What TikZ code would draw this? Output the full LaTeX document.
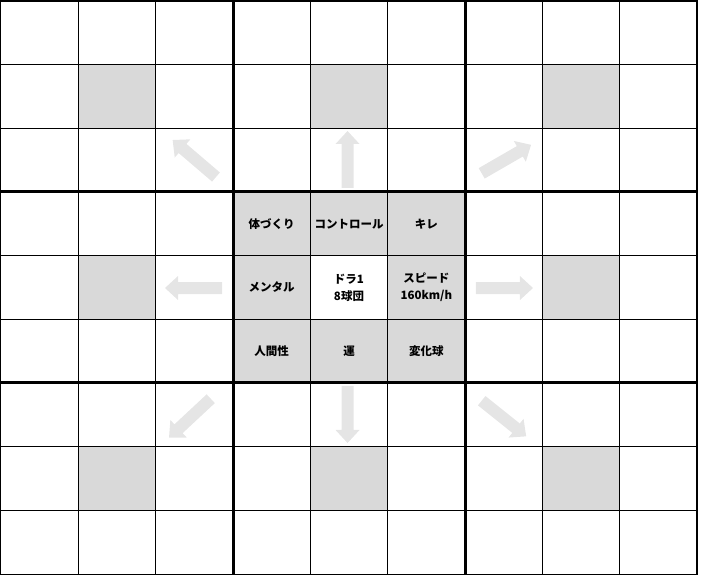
\documentclass[tikz,border=0pt]{standalone}
\usepackage{fontspec}
\newfontfamily\jpfont{Noto Sans CJK JP}
\definecolor{cellgray}{HTML}{D9D9D9}
\definecolor{arrowgray}{HTML}{E5E5E5}
\tikzset{
    goal/.style={font=\jpfont\bfseries\fontsize{11.5}{17}\selectfont, align=center, inner sep=0pt},
    pics/hintarrow/.style={code={
        \fill[arrowgray] (0,-6pt) -- (44pt,-6pt) -- (44pt,-12pt) -- (57pt,0) -- (44pt,12pt) -- (44pt,6pt) -- (0,6pt) -- cycle;
    }}
}
\begin{document}
\begin{tikzpicture}[x=77.333pt, y=63.667pt]
    \useasboundingbox (-1pt,-5pt) rectangle (701pt,574pt);

    % Gray cells in the middle of the outer blocks
    \foreach \i/\j in {1/1, 4/1, 7/1, 1/4, 7/4, 1/7, 4/7, 7/7} {
        \fill[cellgray] (\i,\j) rectangle ++(1,1);
    }

    % Central block, gray except the main goal
    \fill[cellgray] (3,3) rectangle (6,6);
    \fill[white] (4,4) rectangle (5,5);

    % Arrows from the central block to the outer blocks
    \pic[rotate=90] at (4.481,6.063) {hintarrow};
    \pic[rotate=-90] at (4.481,2.953) {hintarrow};
    \pic[rotate=180] at (2.858,4.492) {hintarrow};
    \pic[rotate=0] at (6.142,4.492) {hintarrow};
    \pic[rotate=139.5] at (2.780,6.235) {hintarrow};
    \pic[rotate=30] at (6.216,6.293) {hintarrow};
    \pic[rotate=-38.7] at (6.216,2.722) {hintarrow};
    \pic[rotate=223] at (2.712,2.753) {hintarrow};

    % Grid
    \draw[step=1, line width=1pt, black] (0,0) grid (9,9);
    \foreach \k in {3, 6} {
        \draw[line width=3pt] (\k,0) -- (\k,9);
        \draw[line width=3pt] (0,\k) -- (9,\k);
    }
    \draw[line width=1pt] (0,0) rectangle (9,9);

    % Texts of the central block
    \node[goal] (body) at (3.5,5.5) {体づくり};
    \node[goal] (control) at (4.5,5.5) {コントロール};
    \node[goal] (kire) at (5.5,5.5) {キレ};
    \node[goal] (mental) at (3.5,4.5) {メンタル};
    \node[goal] (main) at (4.5,4.5) {ドラ1\\8球団};
    \node[goal] (speed) at (5.5,4.5) {スピード\\160km/h};
    \node[goal] (human) at (3.5,3.5) {人間性};
    \node[goal] (luck) at (4.5,3.5) {運};
    \node[goal] (pitch) at (5.5,3.5) {変化球};
\end{tikzpicture}
\end{document}
